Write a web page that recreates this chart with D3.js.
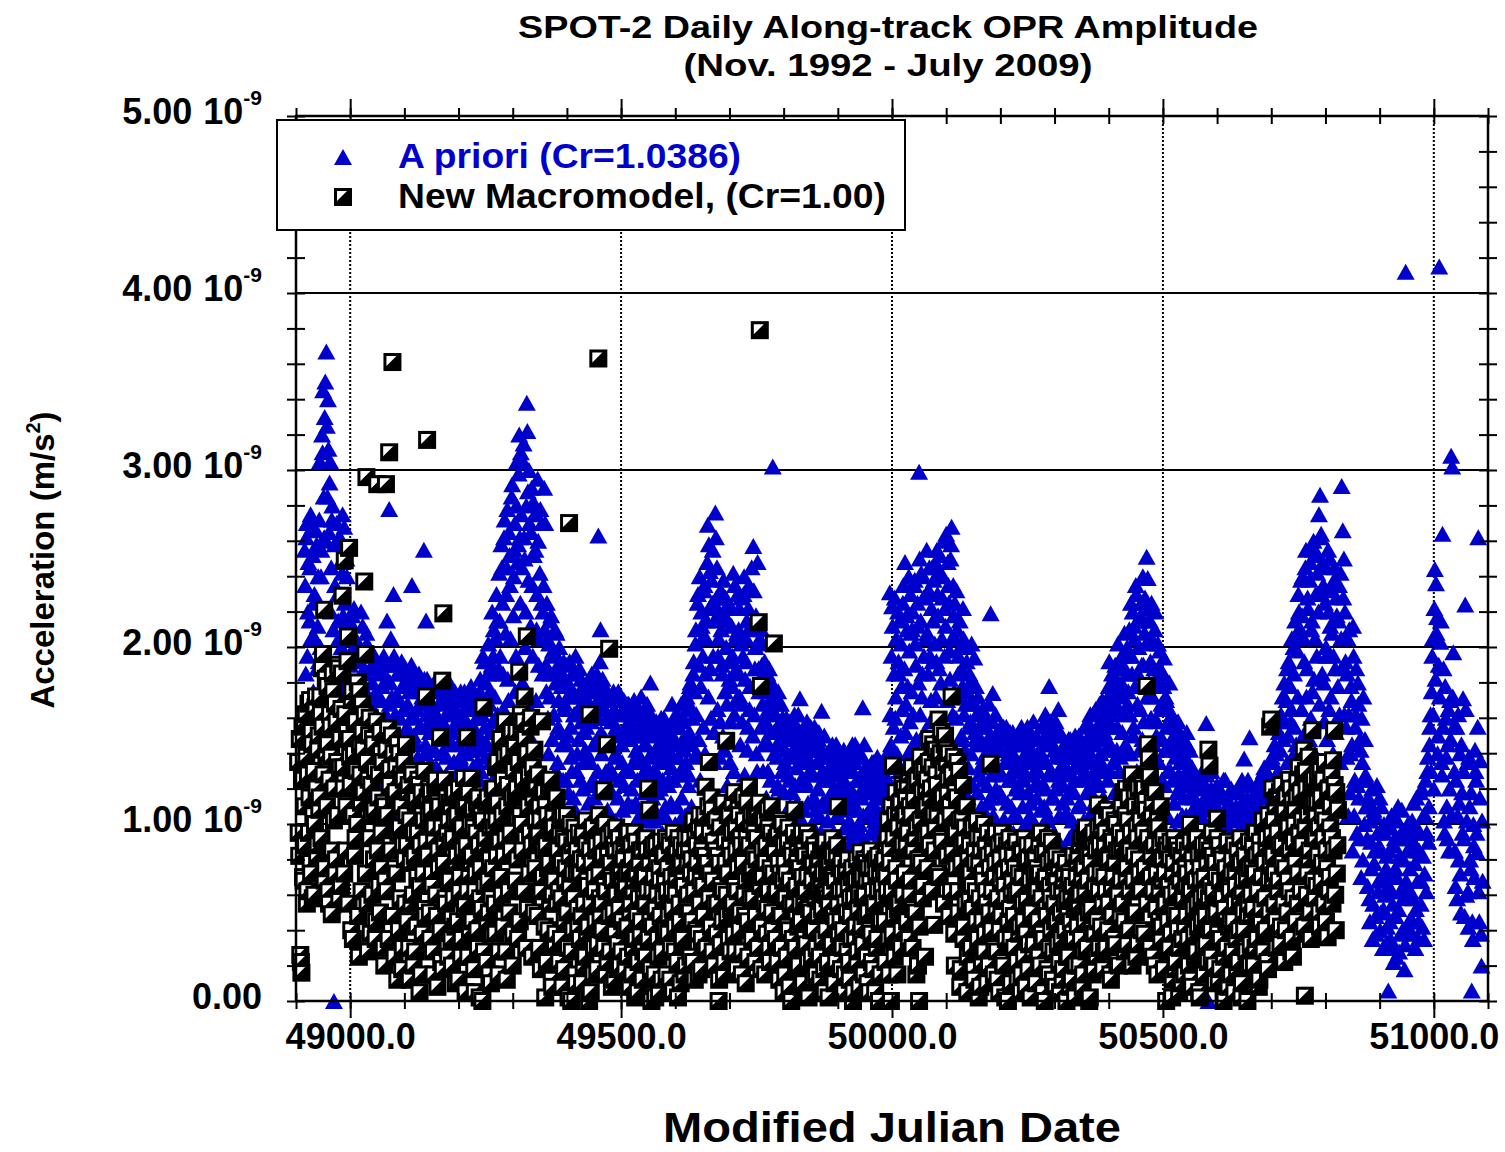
<!doctype html>
<html>
<head>
<meta charset="utf-8">
<title>SPOT-2 Daily Along-track OPR Amplitude</title>
<script src="https://cdnjs.cloudflare.com/ajax/libs/d3/7.8.5/d3.min.js"></script>
<style>
  body { margin: 0; background: #fff; }
  svg text { font-family: "Liberation Sans", Arial, Helvetica, sans-serif; font-weight: bold; }
</style>
</head>
<body>
<div id="chart"></div>
<script>
// values in units of 1e-9 m/s^2, daily points split into even / odd MJD lists
const dayStep = 2;

// A priori (Cr=1.0386)
const aprioriEvenStart = 48916;
const aprioriEven = [
  2.55,1.85,2.70,2.20,1.60,2.45,2.05,2.68,1.75,2.30,1.50,2.58,2.12,1.92,3.05,2.40,3.20,3.45,2.62,3.50, // 48916
  3.67,2.85,3.12,2.93,2.20,2.72,0.54,0.00,2.35,1.80,2.60,2.15,1.65,2.48,2.00,2.75,1.72,2.25,1.55,2.40, // 48956
  2.10,1.55,1.90,1.25,2.18,1.70,1.40,2.05,1.62,1.15,1.95,1.48,2.20,1.78,1.30,1.88,1.58,2.08,1.20,1.72, // 48996
  1.45,1.88,1.20,1.65,1.92,1.35,1.75,1.10,1.58,1.85,1.28,1.70,1.50,1.95,1.18,1.62,2.15,1.40,2.78,1.80, // 49036
  1.55,1.90,2.30,1.25,1.72,1.45,1.05,1.85,1.60,1.32,1.78,1.15,1.52,1.88,1.38,1.68,1.08,1.82,1.48,2.35, // 49076
  1.62,1.28,1.85,1.45,1.12,1.75,1.55,1.80,1.22,1.68,2.55,1.40,2.15,1.82,1.05,1.58,1.35,1.78,1.18,1.65, // 49116
  1.42,1.75,1.15,1.60,1.30,1.80,1.05,1.52,1.68,1.25,1.72,1.38,1.10,1.65,1.48,1.78,1.20,1.55,1.35,1.70, // 49156
  1.28,1.62,1.45,1.08,1.75,1.35,1.58,1.18,1.70,1.40,1.02,1.65,1.50,1.22,1.72,1.32,1.55,1.12,1.68,1.45, // 49196
  1.60,1.25,1.82,1.48,1.70,1.10,1.92,1.38,1.65,1.85,1.20,1.75,1.52,2.20,1.95,1.42,2.05,2.30,1.62,1.88, // 49236
  2.15,1.55,2.45,1.85,2.62,1.35,2.30,2.78,1.70,2.52,2.05,2.85,1.48,2.40,2.70,1.95,3.05,2.58,3.20,2.25, // 49276
  2.75,1.80,3.15,2.50,2.20,3.38,2.88,3.00,1.65,2.65,2.35,2.82,1.45,2.55,2.10,2.95,1.90,2.42,1.30,2.70, // 49316
  2.20,2.90,2.70,1.75,2.05,1.40,2.15,1.85,1.15,1.98,1.62,2.10,1.30,1.88,1.55,2.00,1.08,1.78,1.45,1.92, // 49356
  1.68,1.25,1.90,1.50,1.05,1.78,1.38,1.85,1.15,1.62,1.95,1.30,1.72,1.48,1.02,1.82,1.58,1.20,1.75,1.42, // 49396
  1.55,1.80,1.12,1.68,1.35,1.85,1.25,1.60,1.78,1.05,1.48,2.63,1.72,2.10,1.40,1.82,1.18,1.65,1.30,1.75, // 49436
  1.45,1.70,1.05,1.58,1.28,1.75,0.95,1.40,1.62,1.15,1.52,1.72,1.00,1.35,1.65,1.22,1.55,0.92,1.48,1.68, // 49476
  1.30,1.62,1.10,1.50,1.70,0.98,1.42,1.25,1.65,1.05,1.55,1.35,0.90,1.60,1.18,1.45,1.68,1.02,1.38,1.80, // 49516
  1.40,1.15,1.58,0.88,1.30,1.52,1.05,1.45,1.20,1.60,0.95,1.35,1.55,1.10,1.42,0.85,1.25,1.50,1.12,1.68, // 49556
  1.38,1.55,1.00,1.45,1.62,0.90,1.28,1.58,1.15,1.48,1.70,1.05,1.35,1.65,1.22,1.52,1.80,1.10,1.60,1.92, // 49596
  1.75,2.10,1.40,2.30,1.90,1.25,2.20,2.05,1.55,2.35,1.85,2.15,2.69,2.58,2.43,1.60,2.25,1.95,1.35,2.76, // 49636
  2.28,1.65,2.05,1.38,2.32,1.90,1.50,2.18,1.75,2.00,1.22,2.25,1.82,1.58,2.12,1.95,1.30,2.35,1.70,2.08, // 49676
  1.85,2.22,1.45,2.02,1.68,2.30,1.28,1.92,2.15,1.55,2.35,1.78,1.18,2.10,2.57,1.62,2.00,1.40,2.48,1.88, // 49716
  2.05,1.55,1.90,1.30,1.78,1.62,1.15,1.85,1.45,1.70,1.25,1.80,3.02,1.52,1.08,1.68,1.38,1.75,1.20,1.58, // 49756
  1.45,1.60,1.02,1.35,1.55,0.95,1.28,1.58,1.10,1.48,1.18,1.40,1.62,0.92,1.32,1.52,1.05,1.71,1.25,1.50, // 49796
  1.38,1.08,1.52,1.22,0.95,1.45,1.30,1.55,1.00,1.42,1.15,1.50,0.90,1.35,1.48,1.05,1.28,1.64,1.12,1.40, // 49836
  1.25,0.85,1.40,1.10,1.32,0.78,1.18,1.45,0.95,1.28,1.38,0.82,1.05,1.42,1.15,0.90,1.35,1.22,0.75,1.30, // 49876
  1.08,1.35,0.88,1.42,1.20,0.95,1.30,1.12,1.45,0.82,1.25,1.38,1.00,1.40,1.15,1.66,0.92,1.32,1.05,1.28, // 49916
  1.18,1.32,0.95,1.25,1.10,1.35,1.02,1.22,0.90,1.30,1.15,1.28,0.98,1.35,1.08,1.20,1.32,1.00,1.25,1.12, // 49956
  2.31,1.45,2.23,1.20,1.85,1.60,2.05,1.35,1.92,2.15,1.50,1.78,2.25,1.28,2.48,1.68,2.10,1.40,1.98,2.30, // 49996
  1.75,2.20,1.45,2.38,1.90,1.30,2.12,2.99,1.62,2.42,1.85,2.28,1.52,2.05,2.55,1.38,2.32,1.95,1.70,2.45, // 50036
  2.15,1.58,2.48,1.92,2.30,1.35,2.52,1.80,2.05,2.40,1.48,2.22,2.64,1.70,2.35,1.98,2.50,2.68,1.62,2.18, // 50076
  2.25,1.60,2.10,1.85,1.35,2.00,1.50,1.78,2.05,1.25,1.68,1.92,1.15,1.55,1.80,1.40,1.70,1.05,1.94,1.48, // 50116
  1.62,1.18,1.50,1.32,0.95,1.58,1.25,1.45,1.05,1.55,1.38,1.12,1.48,2.19,1.28,1.74,0.92,1.42,1.20,1.52, // 50156
  1.30,1.50,0.92,1.42,1.15,1.55,1.02,1.35,1.48,0.88,1.25,1.52,1.10,1.40,0.95,1.32,1.45,1.05,1.22,1.50, // 50196
  1.18,1.45,0.85,1.38,1.52,1.00,1.28,1.55,0.90,1.35,1.12,1.48,0.82,1.40,1.22,1.50,0.95,1.30,1.42,1.08, // 50236
  1.35,1.55,0.98,1.45,1.20,1.60,1.05,1.78,1.30,0.88,1.50,1.15,1.42,1.58,0.92,1.38,1.25,1.52,0.85,1.40, // 50276
  1.22,1.45,0.85,1.32,1.05,1.48,0.78,1.28,1.40,0.95,1.18,1.50,0.88,1.35,1.10,1.42,0.80,1.25,1.38,1.02, // 50316
  1.30,1.55,1.00,1.45,1.20,1.62,0.92,1.38,1.50,1.08,1.65,1.25,1.48,0.98,1.58,1.35,1.70,1.15,1.52,1.42, // 50356
  1.60,1.25,1.78,1.45,1.05,1.85,1.35,1.68,1.90,1.12,1.55,1.80,1.30,1.72,1.95,1.20,1.62,1.88,1.40,2.00, // 50396
  1.75,2.10,1.40,1.95,2.20,1.55,2.05,2.35,1.30,1.85,2.15,1.65,2.25,1.48,1.90,2.08,1.20,2.51,2.39,1.80, // 50436
  2.15,1.60,2.05,1.35,1.88,2.20,1.50,1.78,1.10,1.98,1.65,1.25,1.85,1.94,1.42,1.70,1.05,1.58,1.80,1.30, // 50476
  1.62,1.25,1.50,0.95,1.45,1.18,1.58,0.88,1.35,1.48,1.05,1.40,0.82,1.30,1.52,1.00,1.22,1.42,0.90,1.32, // 50516
  1.15,0.75,1.28,0.95,1.20,0.68,1.05,1.25,0.82,1.10,0.72,1.22,1.57,0.90,0.00,1.18,0.78,1.30,1.00,0.85, // 50556
  1.12,0.70,1.22,0.88,1.05,0.62,1.18,0.95,1.25,0.75,1.00,1.15,0.65,1.08,0.92,1.20,0.72,1.02,0.85,1.18, // 50596
  0.90,1.20,0.68,1.10,0.98,1.25,0.75,1.37,1.05,0.62,1.15,0.88,1.49,1.22,0.80,1.08,0.70,1.18,0.95,1.12, // 50636
  0.85,1.25,0.95,1.15,0.65,1.30,1.02,0.78,1.20,0.20,1.10,0.88,1.35,0.72,1.18,1.45,0.92,1.28,1.05,1.52, // 50676
  1.20,1.62,0.95,1.48,1.80,1.10,1.70,1.35,1.92,1.05,1.58,2.05,1.28,1.85,2.15,1.45,1.98,2.30,1.15,2.10, // 50716
  1.65,2.40,2.05,1.30,2.55,1.88,2.22,1.48,2.48,2.10,1.75,2.60,1.40,2.30,1.95,2.52,2.75,2.86,2.64,1.85, // 50756
  2.35,1.58,2.45,1.95,1.25,2.20,2.50,1.72,2.08,1.40,2.38,1.88,2.28,1.10,2.15,1.62,2.42,2.91,2.66,2.50, // 50796
  2.20,1.55,1.85,1.05,2.10,1.40,1.70,0.85,1.95,1.25,1.62,0.95,1.80,1.15,1.48,0.70,1.35,1.72,1.00,1.28, // 50836
  1.25,0.65,1.10,0.45,0.90,1.20,0.55,0.78,1.05,0.38,0.95,0.68,1.15,0.50,0.85,0.30,1.00,0.60,0.75,0.42, // 50876
  0.06,0.85,0.35,1.05,0.55,0.22,0.92,0.48,0.70,1.10,0.28,0.62,0.95,0.40,0.80,0.18,4.12,0.65,1.00,0.45, // 50916
  0.75,0.38,1.02,0.58,0.88,0.30,1.15,0.68,0.45,0.95,0.55,1.20,0.82,0.35,1.05,0.62,1.30,0.90,1.45,1.62, // 50956
  1.75,2.05,1.20,2.44,2.36,2.17,1.50,4.15,2.03,1.35,2.64,1.88,0.95,1.60,1.10,1.45,0.85,1.70,3.08,3.02, // 50996
  1.97,1.30,0.65,1.55,1.05,0.80,1.40,0.50,1.18,1.71,0.92,2.24,0.60,1.35,0.42,1.10,0.75,0.06,0.35,0.88, // 51036
  1.42,1.25,0.84,2.62,0.45,1.36,0.20,0.68                                                            // 51076
];
const aprioriOddStart = 48917;
const aprioriOdd = [
  2.35,2.62,1.95,2.48,2.15,2.75,1.70,2.52,2.25,2.05,2.66,1.88,2.40,2.72,2.00,2.55,3.10,2.85,3.30,2.60, // 48917
  3.25,3.40,2.65,3.05,2.45,2.80,2.10,2.58,1.90,2.70,2.30,2.05,2.62,1.78,2.42,2.18,2.68,1.95,2.50,2.12, // 48957
  1.82,2.15,1.35,1.98,1.60,2.22,1.45,1.75,2.00,1.28,1.92,1.65,1.12,2.12,1.52,1.85,1.38,2.02,1.68,1.48, // 48997
  1.62,1.25,1.80,1.48,1.95,1.15,1.70,1.40,1.88,1.58,1.22,1.78,1.35,1.90,1.52,1.12,1.82,1.45,1.68,2.05, // 49037
  1.72,1.38,1.95,1.62,1.18,1.85,1.50,1.70,1.28,1.92,1.42,1.65,1.05,1.80,1.55,1.25,1.75,1.35,1.90,1.60, // 49077
  1.50,1.78,1.20,1.65,1.38,1.85,1.08,1.55,1.72,1.30,1.82,1.45,1.62,1.15,1.75,1.52,1.25,1.68,1.42,1.80, // 49117
  1.62,1.32,1.78,1.48,1.18,1.70,1.40,1.58,1.02,1.75,1.28,1.62,1.45,1.80,1.12,1.52,1.68,1.35,1.75,1.22, // 49157
  1.55,1.20,1.70,1.38,1.62,1.12,1.48,1.75,1.30,1.58,1.05,1.68,1.42,1.78,1.25,1.52,1.65,1.15,1.60,1.35, // 49197
  1.42,1.75,1.30,1.62,1.95,1.18,1.55,1.80,1.45,2.02,1.68,1.35,1.90,1.58,2.10,1.72,1.28,2.15,1.85,2.42, // 49237
  1.95,2.58,2.25,1.65,2.72,2.08,2.45,1.82,2.65,2.35,1.58,2.92,2.18,2.55,1.75,2.80,2.48,2.98,2.62,3.10, // 49277
  2.45,3.05,2.62,2.00,2.80,3.22,2.38,2.70,2.12,2.90,1.95,2.52,2.75,1.70,2.30,2.60,2.05,2.78,2.25,1.85, // 49317
  2.35,2.10,1.90,2.25,1.60,2.02,1.72,2.18,1.48,1.95,1.22,1.80,2.08,1.35,1.70,1.92,1.52,1.85,1.25,1.65, // 49357
  1.82,1.45,1.72,1.18,1.92,1.55,1.30,1.75,1.62,1.08,1.85,1.40,1.65,1.88,1.25,1.58,1.78,1.35,1.52,1.70, // 49397
  1.40,1.68,1.82,1.22,1.58,1.75,1.45,1.15,1.62,1.85,1.30,1.70,1.92,1.52,1.65,1.25,1.78,1.48,1.60,1.08, // 49437
  1.60,1.32,1.72,1.18,1.50,1.65,1.02,1.55,1.38,1.75,1.25,1.62,1.45,1.08,1.70,1.30,1.48,1.68,1.12,1.58, // 49477
  1.48,1.20,1.68,1.35,1.55,1.12,1.62,1.40,0.95,1.50,1.72,1.28,1.58,1.45,1.08,1.65,1.32,1.52,1.22,1.62, // 49517
  1.28,1.50,1.02,1.42,1.58,1.18,1.35,1.55,0.92,1.48,1.25,1.60,1.05,1.38,1.52,1.22,1.45,0.98,1.32,1.55, // 49557
  1.25,1.48,1.62,1.10,1.38,1.55,1.02,1.68,1.32,1.60,1.42,0.95,1.72,1.50,1.28,1.78,1.45,1.65,1.85,1.38, // 49597
  2.02,1.62,2.25,1.48,2.40,1.78,2.12,1.95,2.32,1.40,2.05,2.48,1.72,2.22,1.88,2.38,2.55,1.52,2.15,2.62, // 49637
  2.45,1.95,2.20,1.58,2.10,1.85,2.38,1.42,2.28,1.68,2.15,1.92,1.35,2.22,1.78,2.42,1.62,2.05,1.88,2.30, // 49677
  2.10,1.72,2.28,1.58,1.95,2.40,1.82,2.05,1.42,2.22,1.65,2.12,2.45,1.50,2.32,1.88,2.18,1.30,2.02,1.75, // 49717
  1.82,2.10,1.68,1.45,1.92,1.58,1.75,1.30,1.88,1.52,1.65,1.12,1.78,1.40,1.62,1.72,1.22,1.55,1.48,1.68, // 49757
  1.30,1.52,1.18,1.42,1.60,1.08,1.48,1.25,1.55,1.00,1.38,1.58,1.22,1.45,1.12,1.62,1.35,1.50,0.98,1.42, // 49797
  1.48,1.25,1.40,1.58,1.12,1.35,1.50,0.98,1.42,1.28,1.55,1.08,1.45,1.20,1.52,1.38,0.95,1.42,1.30,1.50, // 49837
  1.12,1.38,1.02,1.25,0.88,1.42,1.15,1.32,0.80,1.20,1.45,1.05,1.30,0.92,1.38,1.10,1.25,1.42,0.98,1.18, // 49877
  1.22,1.40,1.02,1.30,1.15,1.45,0.90,1.35,1.08,1.25,1.42,0.95,1.18,1.38,1.28,1.05,1.45,1.20,0.88,1.32, // 49917
  1.28,1.05,1.22,1.35,1.12,0.98,1.30,1.18,1.38,1.05,1.25,0.95,1.32,1.15,1.02,1.28,1.10,1.35,1.20,1.42, // 49957
  1.62,1.95,2.12,1.55,2.28,1.72,1.40,2.20,1.85,1.30,2.02,1.65,2.35,1.88,1.52,2.18,1.78,2.40,1.58,2.08, // 49997
  2.10,1.62,2.35,2.02,1.48,2.25,1.80,2.50,2.15,1.72,2.40,1.95,1.35,2.30,2.08,1.85,2.45,1.58,2.22,1.92, // 50037
  2.38,2.02,1.72,2.55,2.18,1.88,2.42,1.55,2.28,2.60,1.95,2.12,1.42,2.48,2.25,1.82,2.58,2.05,2.35,1.75, // 50077
  2.05,2.32,1.72,1.95,2.15,1.48,1.88,2.22,1.62,1.42,2.00,1.75,1.32,1.85,1.58,2.02,1.22,1.68,1.52,1.78, // 50117
  1.45,1.72,1.28,1.55,1.10,1.65,1.38,1.02,1.60,1.22,1.48,1.68,1.15,1.42,1.58,1.05,1.35,1.62,1.30,1.45, // 50157
  1.42,1.18,1.55,1.28,1.02,1.48,1.35,1.55,1.12,1.40,0.95,1.45,1.25,1.52,1.05,1.38,1.20,1.50,1.30,0.92, // 50197
  1.32,1.55,1.10,1.25,1.45,0.95,1.40,1.18,1.52,1.05,1.42,1.28,1.58,1.00,1.35,1.15,1.48,1.22,0.90,1.38, // 50237
  1.22,1.48,1.10,1.62,1.35,1.02,1.52,1.28,1.58,1.15,1.45,0.95,1.55,1.20,1.40,1.65,1.05,1.32,1.50,1.12, // 50277
  1.38,1.05,1.42,1.15,1.30,0.92,1.48,1.20,1.02,1.38,1.25,1.45,0.98,1.32,1.50,1.12,1.40,0.90,1.28,1.45, // 50317
  1.42,1.18,1.58,1.35,1.05,1.52,1.28,1.62,1.12,1.45,1.32,1.55,1.22,1.68,1.40,1.08,1.58,1.30,1.65,1.48, // 50357
  1.48,1.72,1.92,1.30,1.62,1.55,1.82,1.18,1.75,1.42,2.02,1.65,1.38,1.88,1.52,1.78,2.08,1.45,1.85,1.68, // 50397
  1.95,1.62,2.25,1.85,1.50,2.12,1.78,2.30,1.68,2.00,1.42,2.18,1.90,2.40,1.58,2.28,2.02,1.72,2.15,2.22, // 50437
  1.92,2.25,1.72,1.45,2.10,1.82,1.58,2.02,1.35,1.88,1.68,1.48,1.78,1.22,1.72,1.55,1.30,1.65,1.42,1.60, // 50477
  1.45,1.58,1.12,1.38,1.55,1.02,1.28,1.48,1.22,0.92,1.42,1.15,1.35,1.05,1.45,1.25,0.88,1.32,1.18,1.08, // 50517
  0.98,1.22,0.85,1.12,0.70,1.25,0.92,1.05,1.30,0.78,1.15,0.95,1.28,0.82,1.08,0.72,1.20,0.88,1.12,0.68, // 50557
  0.95,1.08,0.78,1.20,0.68,1.02,0.90,1.15,0.72,1.25,0.85,0.98,1.12,0.62,1.05,0.80,1.18,0.92,0.70,1.10, // 50597
  1.05,0.78,1.18,0.92,0.65,1.10,0.85,1.22,0.72,1.02,1.25,0.82,1.12,0.95,0.68,1.15,0.88,1.05,0.75,1.20, // 50637
  1.10,0.72,1.22,0.88,1.05,1.32,0.80,1.15,0.95,1.28,0.68,1.12,1.38,0.90,1.25,1.02,1.40,0.85,1.30,1.18, // 50677
  1.42,1.05,1.72,1.25,1.58,0.92,1.88,1.50,1.20,1.78,1.65,1.38,2.00,1.55,1.12,2.08,1.72,2.20,1.45,2.38, // 50717
  2.18,1.50,1.92,2.45,1.72,2.28,1.05,2.38,1.60,2.15,2.55,1.82,2.05,1.25,2.42,2.20,1.68,2.62,2.30,2.48, // 50757
  1.80,2.25,2.00,1.48,2.55,1.65,2.12,2.32,1.20,1.95,2.45,1.52,2.18,1.78,2.35,1.35,2.05,1.88,2.28,1.62, // 50797
  1.92,1.38,2.05,1.62,1.18,1.78,1.45,2.12,1.05,1.55,1.88,1.22,1.68,0.92,1.42,1.60,0.80,1.25,1.48,1.10, // 50837
  0.92,1.15,0.58,1.02,0.75,0.35,1.08,0.85,0.48,1.22,0.62,0.88,0.40,1.10,0.70,0.52,0.95,0.32,0.82,0.65, // 50877
  0.72,0.45,0.98,0.62,0.30,0.88,0.75,0.25,1.02,0.52,0.82,0.38,1.08,0.58,0.92,0.32,0.68,0.85,0.42,0.95, // 50917
  0.62,0.92,0.45,1.12,0.78,0.52,0.98,0.35,0.85,1.18,0.68,0.42,1.05,0.72,1.25,0.95,1.38,1.10,1.55,1.30, // 50957
  1.95,1.62,2.22,1.82,2.08,1.40,1.90,1.72,2.15,1.28,1.55,1.02,1.78,1.38,0.92,1.65,1.20,1.48,1.05,1.72, // 50997
  1.55,0.85,1.25,0.58,1.62,1.12,0.72,1.45,0.95,1.30,0.48,1.65,1.02,0.62,1.38,0.80,1.18,0.45,1.00,0.70, // 51037
  1.30,0.95,1.55,0.62,1.15,0.38,1.02                                                                 // 51077
];

// New Macromodel (Cr=1.00)
const macroEvenStart = 48904;
const macroEven = [
  1.35,0.82,0.26,0.16,1.55,0.68,1.10,1.62,0.55,1.28,0.95,1.70,0.72,1.45,1.05,0.60,1.66,1.20,0.88,1.50, // 48904
  1.15,1.62,1.88,1.96,2.21,0.75,1.40,1.78,0.62,1.25,1.55,0.49,1.85,1.02,1.68,0.80,1.35,1.90,0.58,1.48, // 48944
  1.65,2.29,1.20,2.49,0.85,1.52,2.06,2.56,1.38,0.40,1.75,1.05,1.58,0.92,1.30,1.80,0.25,1.45,1.12,1.68, // 48984
  1.42,2.37,1.96,2.96,0.55,1.25,1.60,0.38,1.05,1.48,0.80,1.30,0.45,2.92,1.15,0.65,1.52,0.95,1.35,0.30, // 49024
  1.10,2.92,0.62,1.54,3.10,1.31,0.85,3.61,1.40,0.25,1.18,0.72,1.45,0.40,0.98,1.28,0.18,0.88,1.35,0.55, // 49064
  1.05,0.45,1.22,0.12,0.78,1.30,0.60,0.95,0.28,1.15,0.70,1.25,0.05,0.88,1.18,0.38,1.02,0.52,1.72,3.17, // 49104
  0.82,1.20,0.35,1.08,0.65,0.15,0.98,1.25,0.48,1.12,0.75,1.49,0.22,1.81,2.19,0.90,0.58,1.15,0.30,1.02, // 49144
  0.68,1.10,0.20,0.92,1.18,0.42,0.78,1.05,0.12,0.62,0.95,0.35,0.85,1.26,0.55,1.12,1.49,0.25,0.72,1.00, // 49184
  1.26,0.45,0.98,0.05,0.72,1.12,0.30,0.88,0.58,1.05,0.00,1.66,0.65,0.92,0.22,1.15,0.50,0.80,0.10,1.02, // 49224
  0.75,1.20,0.38,1.02,1.35,0.15,0.90,1.48,0.60,1.25,0.82,1.58,0.28,1.10,1.40,0.50,0.95,1.52,0.20,1.30, // 49264
  1.45,0.68,1.20,0.35,1.86,1.05,1.55,0.85,1.58,1.72,1.38,2.06,0.52,1.28,0.95,1.60,0.25,1.15,1.42,0.75, // 49304
  1.22,0.48,0.95,1.10,0.18,1.58,0.70,1.18,0.02,0.88,1.05,0.40,0.78,1.25,0.12,0.60,0.98,0.32,1.12,0.55, // 49344
  0.85,0.22,1.02,0.58,0.08,0.92,0.45,0.75,1.05,0.30,2.70,0.65,0.00,0.88,0.40,0.98,0.15,0.72,0.52,0.95, // 49384
  0.35,0.80,0.10,0.95,0.55,0.25,0.88,0.68,0.42,1.62,0.05,0.78,0.98,0.30,0.62,0.85,0.18,3.63,0.72,0.48, // 49424
  0.90,0.40,1.19,0.65,0.15,1.45,0.82,1.99,0.28,0.70,0.95,0.50,0.12,0.85,0.60,0.32,0.92,0.20,0.75,0.45, // 49464
  0.62,0.88,0.18,0.72,0.42,0.95,0.08,0.55,0.80,0.30,0.68,0.02,0.90,0.48,0.22,0.78,0.38,0.85,0.12,0.58, // 49504
  0.70,0.25,0.85,1.20,1.08,0.45,0.00,0.62,0.88,0.15,0.52,0.78,0.35,0.05,0.68,0.90,0.28,0.58,0.82,0.40, // 49544
  0.15,0.75,0.48,0.88,0.30,0.62,0.05,0.82,0.42,0.70,0.22,0.92,0.55,0.10,0.78,0.35,0.65,0.85,0.20,0.52, // 49584
  0.60,0.92,0.25,0.80,0.45,1.02,0.12,0.70,0.88,0.38,0.98,0.55,0.18,0.85,0.65,1.05,1.21,0.30,0.78,1.35, // 49624
  0.95,0.42,1.08,0.68,0.20,0.85,1.02,0.55,0.00,0.78,0.32,1.10,0.62,0.15,0.90,1.47,0.48,0.72,1.05,0.28, // 49664
  0.82,1.12,0.38,0.65,0.98,0.18,0.75,1.05,0.50,0.88,0.28,1.15,0.60,0.10,0.92,0.45,1.21,0.72,1.00,0.35, // 49704
  0.58,0.95,0.22,0.80,1.08,2.14,3.79,1.78,0.42,0.70,1.02,0.15,0.88,0.52,0.98,0.30,0.75,1.10,0.40,2.02, // 49744
  0.85,0.35,0.62,0.95,0.12,0.72,0.48,1.00,0.05,0.78,0.58,0.25,0.90,0.40,0.68,0.00,0.82,0.55,1.08,0.30, // 49784
  0.65,0.88,0.20,0.75,0.45,0.95,0.10,0.58,0.82,0.32,0.70,0.02,0.92,0.50,0.25,0.78,0.40,0.85,0.15,0.62, // 49824
  0.48,0.80,0.12,0.68,0.35,0.88,0.05,0.60,0.75,0.22,0.55,0.85,0.30,0.92,0.70,0.10,0.45,0.82,1.10,0.38, // 49864
  0.62,0.18,0.72,0.40,0.05,0.55,0.75,0.28,0.65,0.12,0.48,0.70,0.00,0.58,0.35,0.68,0.22,0.52,0.08,0.84, // 49904
  0.42,0.70,0.15,0.60,0.78,0.25,0.50,0.05,0.68,0.38,0.75,0.18,0.55,0.80,0.30,0.62,0.00,0.72,0.45,0.65, // 49944
  0.58,0.80,0.22,0.70,0.92,0.35,0.85,0.00,0.62,1.33,0.48,1.05,0.75,0.15,0.98,0.55,1.12,0.40,0.88,1.20, // 49984
  0.72,1.15,0.45,0.95,1.28,0.60,1.05,0.30,0.85,1.22,0.50,0.98,0.20,0.00,1.38,0.78,1.18,0.65,1.30,0.92, // 50024
  1.10,0.75,1.35,0.88,1.20,0.62,1.45,0.43,0.98,1.28,1.05,1.59,0.70,1.40,0.92,1.15,0.55,1.50,1.42,0.82, // 50064
  1.25,0.48,1.05,1.72,0.85,1.38,0.20,0.95,1.15,0.62,1.30,0.08,0.78,1.02,0.35,0.90,0.55,1.10,0.25,0.70, // 50104
  0.88,0.30,0.65,0.98,0.12,0.78,0.45,0.92,0.02,0.58,0.85,0.22,0.72,1.00,0.38,0.62,0.10,0.82,0.50,1.34, // 50144
  0.40,0.85,0.15,0.70,0.95,0.28,0.58,0.05,0.80,0.48,0.90,0.20,0.65,0.35,0.88,0.00,0.75,0.52,0.10,0.68, // 50184
  0.82,0.30,0.60,0.90,0.12,0.72,0.42,0.05,0.85,0.55,0.25,0.78,0.38,0.88,0.18,0.65,0.02,0.50,0.80,0.32, // 50224
  0.62,0.10,0.75,0.45,0.88,0.20,0.58,0.83,0.35,0.00,0.70,0.48,0.92,0.15,0.65,0.40,0.80,0.28,0.55,0.08, // 50264
  0.68,0.32,0.75,0.05,0.50,0.62,0.18,0.72,0.40,0.00,0.58,0.25,0.70,0.45,0.12,0.65,0.35,0.02,0.55,0.78, // 50304
  0.82,0.20,0.60,0.92,0.08,0.75,0.45,0.98,0.30,0.68,0.00,0.85,0.52,0.15,0.95,0.38,0.72,0.25,1.11,0.62, // 50344
  0.88,0.42,1.02,0.18,0.70,0.95,0.30,0.80,0.55,1.05,0.12,0.65,0.90,0.35,0.78,1.00,0.22,0.60,0.85,0.48, // 50384
  1.10,0.55,0.92,0.28,1.20,0.75,1.02,0.40,0.85,1.25,0.20,0.68,1.15,0.50,0.98,0.32,0.80,1.08,0.62,1.22, // 50424
  0.95,0.38,1.13,1.78,1.45,1.37,1.27,0.70,1.05,0.25,0.88,1.18,0.52,0.15,0.98,0.62,1.10,0.42,0.80,0.18, // 50464
  0.72,0.00,0.85,0.45,0.30,0.90,0.60,0.12,0.78,0.50,0.22,0.88,0.40,0.05,0.68,0.82,0.35,0.58,0.15,0.75, // 50504
  0.48,0.85,0.20,1.00,0.62,0.08,0.75,0.38,0.90,0.28,0.55,0.82,0.02,0.68,0.45,0.88,0.15,0.60,0.32,0.78, // 50544
  1.42,1.33,0.65,0.25,0.82,0.48,0.10,0.70,1.03,0.38,0.88,0.18,0.58,0.80,0.00,0.52,0.75,0.30,0.90,0.42, // 50584
  0.62,0.15,0.80,0.45,0.05,0.72,0.35,0.85,0.22,0.58,0.78,0.10,0.68,0.40,0.82,0.28,0.00,0.55,0.75,0.32, // 50624
  0.48,0.88,0.20,0.72,0.95,0.35,0.62,0.12,0.85,0.52,1.00,0.28,0.78,0.40,0.92,0.18,0.68,1.55,1.59,1.20, // 50664
  0.82,0.55,1.10,0.30,0.95,0.68,1.18,0.42,0.88,1.05,0.22,0.75,1.15,0.50,0.98,0.62,1.20,0.35,0.25,0.90, // 50704
  1.08,0.45,1.25,0.72,0.95,1.18,0.38,0.88,1.42,0.03,1.30,0.60,1.05,0.80,0.50,1.22,1.53,0.68,1.12,0.92, // 50744
  0.65,1.28,0.98,0.42,1.15,0.78,1.25,0.55,1.02,0.85,0.36,1.20,0.70,1.10,0.92,1.36,1.53,0.60,1.18,0.88  // 50784
];
const macroOddStart = 48905;
const macroOdd = [
  0.95,1.48,0.22,1.25,0.70,1.58,0.88,1.38,0.62,1.68,1.15,0.78,1.52,0.58,1.30,1.00,1.72,0.82,1.42,1.08, // 48905
  1.72,0.92,1.55,1.28,0.68,1.82,1.10,1.45,0.55,1.62,1.38,0.85,1.75,1.20,0.72,1.58,1.05,1.88,1.32,0.65, // 48945
  1.85,1.32,0.72,1.62,1.10,1.92,0.55,1.48,1.22,1.70,0.35,1.40,0.82,1.58,1.00,0.48,1.75,1.28,0.62,1.52, // 48985
  1.18,1.62,0.72,1.35,0.28,1.50,0.92,1.22,0.60,1.45,1.08,0.35,1.58,0.85,1.28,0.50,1.40,0.75,1.12,0.20, // 49025
  0.68,1.42,1.05,0.35,1.22,0.88,1.50,0.48,1.15,0.75,1.32,0.12,0.95,1.40,0.58,1.10,0.30,1.25,0.80,1.45, // 49065
  0.88,1.18,0.30,1.02,0.55,1.28,0.20,0.82,1.12,0.42,0.95,1.22,0.65,0.15,1.05,0.72,1.30,0.48,0.90,1.15, // 49105
  1.05,0.50,1.18,0.72,0.28,0.92,1.22,0.60,0.08,0.85,1.10,0.40,0.98,0.18,0.78,1.25,0.55,0.95,0.25,1.12, // 49145
  0.90,0.35,1.15,0.58,1.02,0.10,0.82,0.45,1.20,0.70,0.25,0.98,1.10,0.52,0.05,0.88,0.62,1.18,0.40,0.78, // 49185
  0.82,1.08,0.18,0.62,0.95,0.40,1.15,0.02,0.75,0.52,1.02,0.28,0.88,1.12,0.45,0.68,0.15,0.98,0.58,1.20, // 49225
  0.98,0.55,1.32,0.82,1.12,0.28,1.45,0.70,1.05,0.42,1.38,0.92,0.12,1.22,0.62,1.50,0.85,1.15,0.38,1.42, // 49265
  1.18,1.52,0.80,1.35,0.45,1.62,1.00,1.25,0.62,1.48,0.30,1.40,1.10,0.72,1.55,0.88,1.32,0.50,1.20,1.02, // 49305
  0.92,1.28,0.30,1.02,0.62,1.18,0.85,0.42,1.10,0.22,0.75,1.22,0.55,0.95,0.08,1.05,0.68,0.38,1.15,0.82, // 49345
  0.62,0.95,0.35,0.78,1.05,0.18,0.68,0.90,0.50,0.02,0.82,1.00,0.28,0.72,0.58,0.92,0.10,0.85,0.42,0.75, // 49385
  0.72,0.48,0.92,0.20,0.78,1.02,0.38,0.65,0.00,0.85,0.55,0.95,0.15,0.70,0.45,0.88,0.32,1.05,0.58,0.80, // 49425
  0.55,0.82,0.30,1.00,0.62,0.22,0.92,0.48,0.78,0.08,0.68,0.88,0.38,0.98,0.18,0.72,0.52,0.85,0.28,0.65, // 49465
  0.80,0.40,0.65,0.92,0.25,0.75,0.50,0.88,0.15,0.62,0.95,0.35,0.72,0.05,0.58,0.85,0.45,0.68,0.28,0.90, // 49505
  0.55,0.92,0.62,0.35,0.78,0.18,0.85,0.42,0.70,0.02,0.88,0.60,0.25,0.75,0.48,0.12,0.82,0.38,0.68,0.92, // 49545
  0.62,0.38,0.90,0.12,0.70,0.52,0.95,0.28,0.60,0.85,0.02,0.75,0.45,0.88,0.32,0.68,0.15,0.92,0.55,0.78, // 49585
  0.85,0.50,0.72,1.00,0.22,0.62,0.92,0.40,0.78,0.15,1.05,0.68,0.35,0.95,0.48,0.82,0.28,0.75,1.10,0.58, // 49625
  0.72,1.15,0.28,0.90,0.55,1.02,0.38,0.82,0.12,0.98,0.65,0.45,1.12,0.22,0.78,0.60,1.05,0.35,0.88,0.52, // 49665
  0.95,0.55,1.18,0.28,0.85,0.62,1.08,0.40,0.92,0.15,0.78,1.02,0.48,0.68,1.12,0.25,0.88,0.58,1.05,0.75, // 49705
  0.82,1.05,0.48,0.92,0.30,1.12,0.65,0.18,0.85,1.00,0.55,0.78,0.38,1.08,0.62,0.22,0.95,0.50,0.72,0.90, // 49745
  0.60,0.92,0.22,0.78,0.48,1.02,0.30,0.68,0.88,0.15,0.72,0.42,0.98,0.08,0.55,0.85,0.35,0.95,0.62,0.18, // 49785
  0.78,0.42,0.92,0.55,0.08,0.70,0.85,0.35,0.62,0.95,0.22,0.52,0.80,0.40,0.68,0.12,0.88,0.58,0.30,0.75, // 49825
  0.65,0.25,0.85,0.52,0.72,0.18,0.90,0.40,0.58,0.02,0.78,0.62,0.32,0.82,0.48,0.68,0.22,0.88,0.55,0.75, // 49865
  0.45,0.78,0.30,0.62,0.15,0.72,0.50,0.80,0.22,0.58,0.35,0.75,0.05,0.68,0.42,0.80,0.28,0.60,0.70,0.38, // 49905
  0.58,0.32,0.80,0.48,0.68,0.10,0.75,0.40,0.85,0.22,0.62,0.52,0.05,0.72,0.35,0.82,0.45,0.15,0.65,0.78, // 49945
  0.72,0.45,0.88,0.62,1.02,0.15,0.78,1.10,0.38,0.92,0.25,1.18,0.68,0.52,1.08,0.85,0.30,1.22,0.60,1.00, // 49985
  1.05,0.88,1.22,0.35,1.10,0.68,1.32,0.52,1.15,0.92,0.15,1.25,0.80,0.42,1.02,1.30,0.58,1.08,0.25,1.20, // 50025
  1.25,0.95,1.48,1.15,0.62,1.32,1.05,0.85,1.42,1.22,0.72,1.38,1.12,1.52,0.90,1.30,1.45,1.02,1.35,1.18, // 50065
  1.40,1.10,0.62,1.28,0.92,0.38,1.18,0.75,1.35,0.50,1.02,0.18,0.88,1.22,0.42,0.98,0.68,0.05,0.82,0.58, // 50105
  0.72,0.98,0.52,0.18,0.85,0.62,1.02,0.35,0.78,0.08,0.92,0.45,0.68,0.28,0.88,0.55,0.95,0.20,0.75,0.40, // 50145
  0.62,0.92,0.30,0.78,0.52,0.12,0.88,0.40,0.68,0.95,0.22,0.72,0.02,0.58,0.82,0.45,0.92,0.35,0.62,0.85, // 50185
  0.48,0.75,0.90,0.22,0.62,0.38,0.85,0.15,0.70,0.45,0.92,0.08,0.58,0.80,0.32,0.68,0.50,0.88,0.28,0.72, // 50225
  0.80,0.42,0.62,0.25,0.72,0.95,0.38,0.05,0.68,0.85,0.52,0.18,0.78,0.30,0.58,0.90,0.12,0.70,0.45,0.82, // 50265
  0.45,0.62,0.22,0.80,0.35,0.12,0.68,0.55,0.78,0.25,0.48,0.72,0.08,0.60,0.38,0.82,0.52,0.20,0.70,0.42, // 50305
  0.55,0.88,0.35,0.70,0.15,0.95,0.62,0.28,0.82,0.50,0.02,0.78,0.40,0.90,0.18,0.65,0.85,0.45,0.98,0.30, // 50345
  0.72,0.98,0.55,0.28,0.88,0.62,1.08,0.40,0.80,0.15,0.92,0.48,0.70,1.02,0.32,0.85,0.58,0.20,0.95,0.68, // 50385
  0.88,1.18,0.45,1.05,0.70,0.32,1.15,0.62,0.95,1.28,0.50,0.82,1.10,0.25,0.92,1.20,0.72,1.02,0.40,1.12, // 50425
  1.20,0.75,1.08,0.55,0.92,1.25,0.30,0.82,1.12,0.62,0.20,0.98,0.72,1.05,0.45,0.88,0.35,0.68,0.92,0.52, // 50465
  0.55,0.88,0.28,0.65,0.80,0.38,0.02,0.72,0.92,0.18,0.62,0.48,0.85,0.30,0.75,0.10,0.58,0.88,0.42,0.65, // 50505
  0.72,0.35,0.62,0.90,0.12,0.80,0.52,0.25,0.68,0.92,0.42,0.05,0.75,0.58,0.85,0.30,0.70,0.48,0.88,0.22, // 50545
  0.58,0.85,0.40,0.95,0.62,0.20,0.78,0.50,0.92,0.12,0.68,0.35,0.82,0.58,0.25,0.72,0.45,0.88,0.08,0.65, // 50585
  0.45,0.72,0.28,0.88,0.55,0.65,0.18,0.78,0.40,0.92,0.02,0.62,0.50,0.85,0.30,0.70,0.48,0.90,0.20,0.60, // 50625
  0.75,0.52,0.95,0.30,0.82,0.62,0.08,0.90,0.45,0.70,1.02,0.38,0.58,0.88,0.22,1.05,0.50,0.78,0.95,0.68, // 50665
  1.02,0.72,0.45,1.15,0.62,0.88,0.32,1.22,0.78,0.55,1.08,0.40,0.95,0.68,1.25,0.85,0.28,1.12,0.58,1.00, // 50705
  0.78,1.15,0.55,1.32,0.88,0.62,1.02,1.28,0.42,0.98,1.20,0.72,1.38,0.85,0.35,1.10,0.92,1.25,0.58,1.05, // 50745
  1.12,0.82,0.50,1.30,0.68,1.05,0.92,1.35,0.45,0.75,1.18,0.62,0.98,1.28,0.55,0.85,1.22,0.40,0.72,1.08  // 50785
];

// axis ticks and labels
const xTickValues = [49000, 49500, 50000, 50500, 51000];
const yTickValues = [0, 1, 2, 3, 4, 5];
const yGridValues = [1, 2, 3, 4];
const titleLines = ["SPOT-2 Daily Along-track OPR Amplitude", "(Nov. 1992 - July 2009)"];
const seriesNames = ["A priori (Cr=1.0386)", "New Macromodel, (Cr=1.00)"];

const blue = "#0000cc";
const plotL = 296, plotR = 1488, plotT = 116, plotB = 1001;

function toPoints(values, start) {
  return values.map((v, i) => ({ mjd: start + i * dayStep, v: v }));
}
const apriori = toPoints(aprioriEven, aprioriEvenStart)
  .concat(toPoints(aprioriOdd, aprioriOddStart))
  .sort((a, b) => a.mjd - b.mjd);
const macro = toPoints(macroEven, macroEvenStart)
  .concat(toPoints(macroOdd, macroOddStart))
  .sort((a, b) => a.mjd - b.mjd);

const svg = d3.select("#chart").append("svg")
  .attr("width", 1505)
  .attr("height", 1152)
  .style("background", "#fff");

const x = d3.scaleLinear().domain([48900, 51100]).range([plotL, plotR]);
const y = d3.scaleLinear().domain([0, 5]).range([plotB, plotT]);

const xMinor = d3.range(48900, 51101, 100);
const yMinor = d3.range(0, 5.001, 0.2);

// grid
svg.append("g").selectAll("line").data(yGridValues).join("line")
  .attr("x1", plotL).attr("x2", plotR)
  .attr("y1", d => y(d)).attr("y2", d => y(d))
  .attr("stroke", "#000").attr("stroke-width", 2);

svg.append("g").selectAll("line").data(xTickValues).join("line")
  .attr("x1", d => x(d)).attr("x2", d => x(d))
  .attr("y1", plotT).attr("y2", plotB)
  .attr("stroke", "#000").attr("stroke-width", 2)
  .attr("stroke-dasharray", "2,2");

// markers
const tri = "M0,-8L9,8L-9,8Z";
svg.append("g").selectAll("path").data(apriori).join("path")
  .attr("d", tri)
  .attr("transform", d => `translate(${x(d.mjd)},${y(d.v)})`)
  .attr("fill", blue);

const sq = svg.append("g").selectAll("g").data(macro).join("g")
  .attr("transform", d => `translate(${x(d.mjd)},${y(d.v)})`);
sq.append("rect").attr("x", -9).attr("y", -9).attr("width", 18).attr("height", 18).attr("fill", "#000");
sq.append("path").attr("d", "M-6,-6L4,-6L-6,4Z").attr("fill", "#fff");

// frame
svg.append("rect")
  .attr("x", plotL).attr("y", plotT)
  .attr("width", plotR - plotL).attr("height", plotB - plotT)
  .attr("fill", "none").attr("stroke", "#000").attr("stroke-width", 2.5);

// ticks (crossing the frame)
function ticks(axis, tx, ty) {
  const g = svg.append("g").attr("transform", `translate(${tx},${ty})`).call(axis);
  g.select(".domain").remove();
  g.selectAll(".tick line").attr("stroke", "#000").attr("stroke-width", 2);
  return g;
}
ticks(d3.axisBottom(x).tickValues(xMinor).tickSize(8).tickFormat(""), 0, plotB);
ticks(d3.axisTop(x).tickValues(xMinor).tickSize(8).tickFormat(""), 0, plotB);
ticks(d3.axisTop(x).tickValues(xMinor).tickSize(8).tickFormat(""), 0, plotT);
ticks(d3.axisBottom(x).tickValues(xMinor).tickSize(8).tickFormat(""), 0, plotT);
ticks(d3.axisTop(x).tickValues(xTickValues).tickSize(17).tickFormat(""), 0, plotT);
ticks(d3.axisLeft(y).tickValues(yMinor).tickSize(9).tickFormat(""), plotL, 0);
ticks(d3.axisRight(y).tickValues(yMinor).tickSize(9).tickFormat(""), plotL, 0);
ticks(d3.axisRight(y).tickValues(yMinor).tickSize(9).tickFormat(""), plotR, 0);
ticks(d3.axisLeft(y).tickValues(yMinor).tickSize(9).tickFormat(""), plotR, 0);

// x labels
const xl = ticks(d3.axisBottom(x).tickValues(xTickValues).tickSize(17).tickPadding(5).tickFormat(d3.format(".1f")), 0, plotB);
xl.attr("font-size", 36).attr("font-family", null);
xl.selectAll(".tick text").attr("fill", "#000");

// y labels: "1.00 10^-9"
const yl = ticks(d3.axisLeft(y).tickValues(yTickValues).tickSize(0).tickPadding(34).tickFormat(d3.format(".2f")), plotL, 0);
yl.attr("font-size", 36).attr("font-family", null);
yl.selectAll(".tick text").attr("fill", "#000").attr("dy", "0.2em")
  .each(function (d) {
    if (d === 0) return;
    const t = d3.select(this);
    t.append("tspan").attr("dx", 11).text("10");
    t.append("tspan").attr("dy", -19).attr("font-size", 21).text("-9");
  });

// titles
svg.append("g").selectAll("text").data(titleLines).join("text")
  .attr("x", 888).attr("y", (d, i) => 38 + i * 38)
  .attr("text-anchor", "middle").attr("font-size", 32)
  .attr("textLength", (d, i) => i === 0 ? 740 : 409)
  .attr("lengthAdjust", "spacingAndGlyphs")
  .text(d => d);

svg.append("text")
  .attr("x", 892).attr("y", 1142)
  .attr("text-anchor", "middle").attr("font-size", 43)
  .attr("textLength", 458).attr("lengthAdjust", "spacingAndGlyphs")
  .text("Modified Julian Date");

const yt = svg.append("text")
  .attr("transform", "translate(54,560) rotate(-90)")
  .attr("text-anchor", "middle").attr("font-size", 33);
yt.append("tspan").text("Acceleration (m/s");
yt.append("tspan").attr("dy", -14).attr("font-size", 20).text("2");
yt.append("tspan").attr("dy", 14).text(")");

// legend
svg.append("rect")
  .attr("x", 277).attr("y", 120).attr("width", 628).attr("height", 110)
  .attr("fill", "#fff").attr("stroke", "#000").attr("stroke-width", 2);
svg.append("path").attr("d", tri).attr("transform", "translate(343,157)").attr("fill", blue);
const lsq = svg.append("g").attr("transform", "translate(343,197)");
lsq.append("rect").attr("x", -9).attr("y", -9).attr("width", 18).attr("height", 18).attr("fill", "#000");
lsq.append("path").attr("d", "M-6,-6L4,-6L-6,4Z").attr("fill", "#fff");

svg.append("g").selectAll("text").data(seriesNames).join("text")
  .attr("x", 398).attr("y", (d, i) => 168 + i * 40)
  .attr("font-size", 35)
  .attr("fill", (d, i) => i === 0 ? blue : "#000")
  .attr("textLength", (d, i) => i === 0 ? 343 : 488)
  .attr("lengthAdjust", "spacingAndGlyphs")
  .text(d => d);
</script>
</body>
</html>
